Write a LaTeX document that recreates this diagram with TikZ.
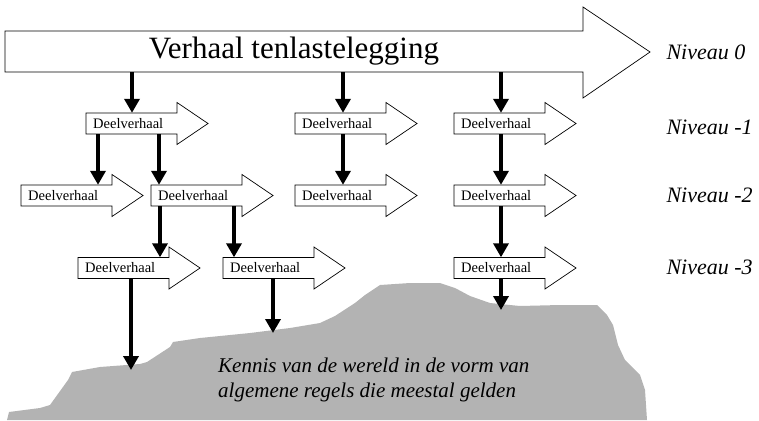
\documentclass[tikz,border=0pt]{standalone}
\usepackage{fontspec}
\setmainfont{Liberation Serif}
\usetikzlibrary{arrows.meta}
\definecolor{groundgray}{RGB}{179,179,179}
\tikzset{
  outl/.style={draw=black, line width=0.7pt, fill=white, line join=miter},
  deeltxt/.style={inner xsep=7pt, inner ysep=0pt, text width=77pt, minimum height=21pt,
    align=left, font=\fontsize{14.5}{14.5}\selectfont, anchor=west},
  conn/.style={line width=3.5pt, -{Triangle[length=14pt,width=15pt]}},
  niv/.style={anchor=west, font=\fontsize{22}{22}\selectfont\itshape},
}
\newcommand\deel[3]{%
  \draw[outl] (#2,#3-10.5) -- (#2+91,#3-10.5) -- (#2+91,#3-21) -- (#2+122,#3)
     -- (#2+91,#3+21) -- (#2+91,#3+10.5) -- (#2,#3+10.5) -- cycle;
  \node[deeltxt] (#1) at (#2,#3) {Deelverhaal};
}
\begin{document}
\begin{tikzpicture}[x=1pt,y=-1pt]
\useasboundingbox (0,0) rectangle (759,420);
% ground
\fill[groundgray] (7,420) -- (9,412) -- (40,408) -- (50,405) -- (68,380) -- (72,372)
  -- (100,367) -- (140,364) -- (147,362) -- (170,347) -- (173,342) -- (200,338)
  -- (250,333) -- (290,328) -- (320,323) -- (335,316) -- (355,303) -- (365,295)
  -- (380,285) -- (410,283) -- (440,283) -- (455,288) -- (470,296) -- (490,303)
  -- (520,306) -- (560,305) -- (597,305) -- (607,315) -- (613,325) -- (618,345)
  -- (625,360) -- (640,375) -- (645,390) -- (647,420) -- cycle;
\node[align=left, anchor=west, inner sep=0pt, font=\fontsize{21}{25}\selectfont\itshape]
  (kennis) at (218,380)
  {Kennis van de wereld in de vorm van\\algemene regels die meestal gelden};
% big arrow
\draw[outl] (5,31) -- (583,31) -- (583,7) -- (650,52) -- (583,98) -- (583,72) -- (5,72) -- cycle;
\node[minimum width=578pt, minimum height=41pt, inner sep=0pt,
  font=\fontsize{31}{31}\selectfont] (big) at (294,51.5) {Verhaal tenlastelegging};
% small arrows
\deel{A1}{86}{123.5}
\deel{A2}{295}{123.5}
\deel{A3}{454}{123.5}
\deel{B1}{21}{195.5}
\deel{B2}{151}{195.5}
\deel{B3}{295}{195.5}
\deel{B4}{454}{195.5}
\deel{C1}{78}{268}
\deel{C2}{223}{268}
\deel{C3}{454}{268}
% level labels
\node[niv] (n0) at (663,52) {Niveau 0};
\node[niv] (n1) at (663,127) {Niveau -1};
\node[niv] (n2) at (663,195) {Niveau -2};
\node[niv] (n3) at (663,267) {Niveau -3};
% ground targets
\coordinate (g1) at (131,370);
\coordinate (g2) at (273,333);
\coordinate (g3) at (501,310);
% x positions of connectors
\coordinate (xa) at (132,0);
\coordinate (xb) at (343,0);
\coordinate (xc) at (501,0);
\coordinate (xd) at (98,0);
\coordinate (xe) at (159,0);
\coordinate (xf) at (160,0);
\coordinate (xg) at (234,0);
\coordinate (xh) at (131,0);
\coordinate (xi) at (273,0);
% connectors
\draw[conn] (big.south -| xa) -- (A1.north -| xa);
\draw[conn] (big.south -| xb) -- (A2.north -| xb);
\draw[conn] (big.south -| xc) -- (A3.north -| xc);
\draw[conn] (A1.south -| xd) -- (B1.north -| xd);
\draw[conn] (A1.south -| xe) -- (B2.north -| xe);
\draw[conn] (A2.south -| xb) -- (B3.north -| xb);
\draw[conn] (A3.south -| xc) -- (B4.north -| xc);
\draw[conn] (B2.south -| xf) -- (C1.north -| xf);
\draw[conn] (B2.south -| xg) -- (C2.north -| xg);
\draw[conn] (B4.south -| xc) -- (C3.north -| xc);
\draw[conn] (C1.south -| xh) -- (g1);
\draw[conn] (C2.south -| xi) -- (g2);
\draw[conn] (C3.south -| xc) -- (g3);
\end{tikzpicture}
\end{document}
